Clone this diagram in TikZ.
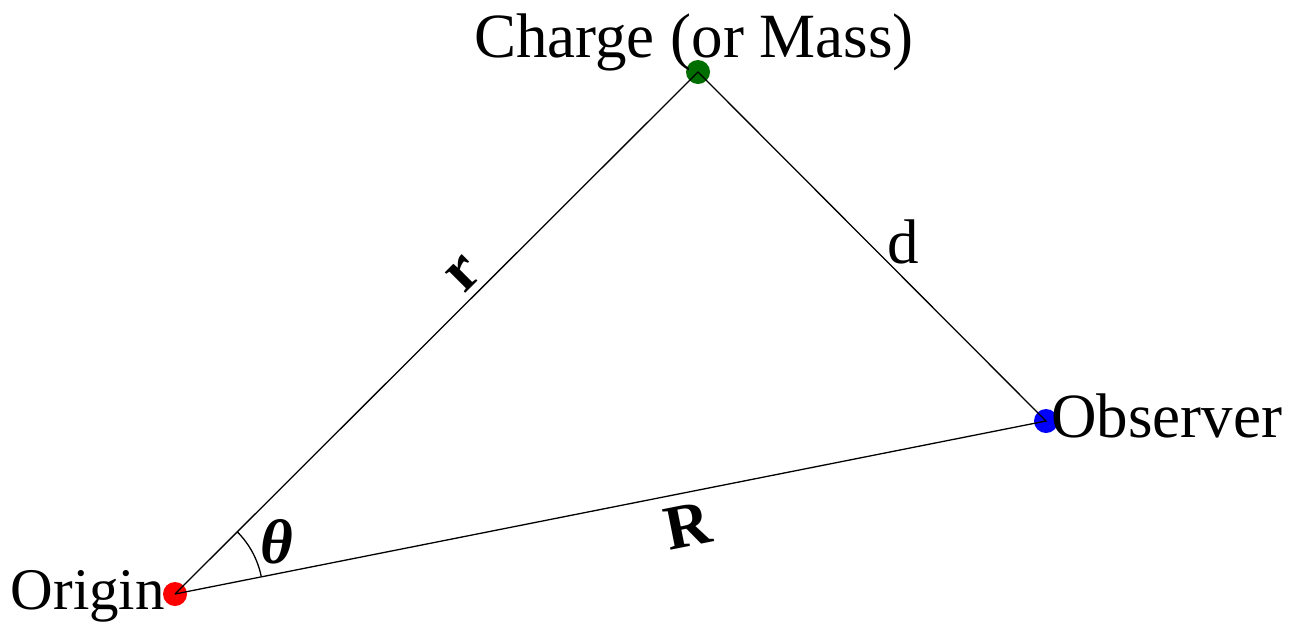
\documentclass[tikz,border=0pt]{standalone}
\usepackage{fontspec}
\setmainfont{Liberation Serif}
\begin{document}
\begin{tikzpicture}[x=1pt,y=-1pt,
  dot/.style={circle,inner sep=0pt,minimum size=24pt},
  edge/.style={draw=black,line width=1.3pt},
  lab/.style={inner sep=0pt,font=\fontsize{63}{63}\selectfont},
  boldlab/.style={inner sep=0pt,font=\fontsize{63}{63}\selectfont\bfseries}]
\useasboundingbox (0,0) rectangle (1303,622);
\node[dot,fill=red] (O) at (175,594) {};
\node[dot,fill={rgb,255:red,0;green,110;blue,0}] (C) at (698,72) {};
\node[dot,fill=blue] (P) at (1046,421) {};
\draw[edge] (O.center) -- (C.center) -- (P.center) -- (O.center);
\draw[line width=1.3pt] (O.center) ++(-11.3:88) arc[start angle=-11.3, end angle=-45, radius=88];
\node[lab,anchor=base east,font=\fontsize{59}{59}\selectfont] (lo) at (165,609) {Origin};
\node[lab,anchor=base west] (lp) at (1051,437) {Observer};
\node[lab,anchor=base] (lc) at (694,57) {Charge (or Mass)};
\node[lab,anchor=base] (ld) at (903,263) {d};
\node[boldlab,rotate=45] (lr) at (464,274) {r};
\node[boldlab,rotate=11.3] (lR) at (688,526) {R};
\node[boldlab,font=\fontsize{63}{63}\selectfont\bfseries\itshape] (lt) at (277,542) {θ};
\end{tikzpicture}
\end{document}
